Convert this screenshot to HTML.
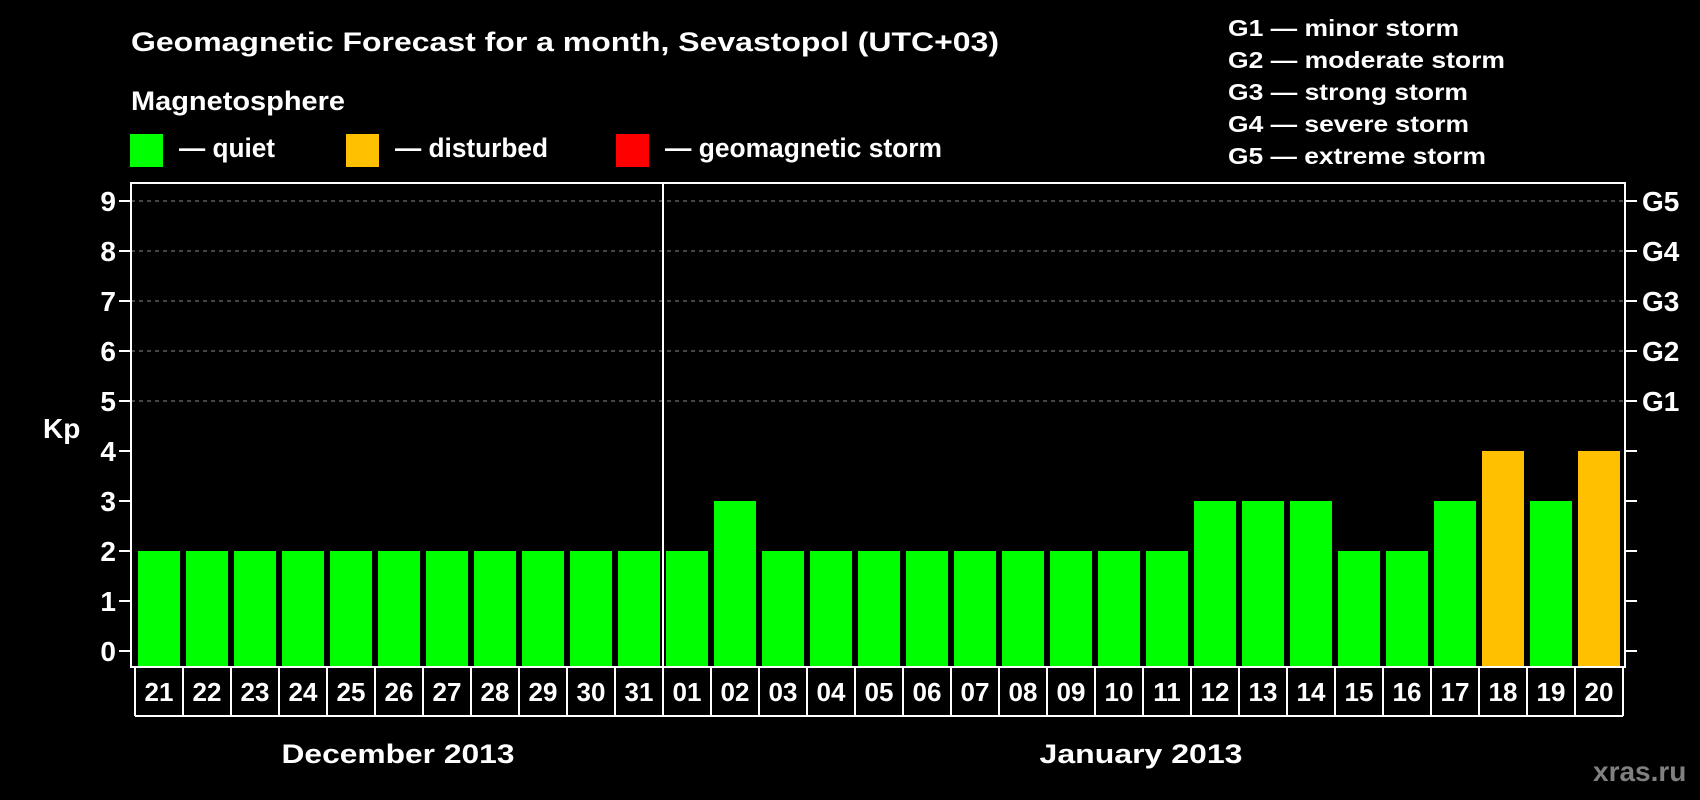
<!DOCTYPE html>
<html><head><meta charset="utf-8"><style>
html,body{margin:0;padding:0;background:#000;width:1700px;height:800px;overflow:hidden}
svg{display:block;font-family:"Liberation Sans",sans-serif;font-weight:bold}
</style></head><body>
<svg id="chart" width="1700" height="800" viewBox="0 0 1700 800" xmlns="http://www.w3.org/2000/svg">
<rect width="1700" height="800" fill="#000"/>
<text x="131" y="51" fill="#fff" font-size="27" textLength="868" lengthAdjust="spacingAndGlyphs">Geomagnetic Forecast for a month, Sevastopol (UTC+03)</text>
<text x="131" y="110" fill="#fff" font-size="27" textLength="214" lengthAdjust="spacingAndGlyphs">Magnetosphere</text>
<g>
<rect x="130" y="134" width="33" height="33" fill="#00ff00"/>
<text x="179" y="157" fill="#fff" font-size="27" textLength="96" lengthAdjust="spacingAndGlyphs">— quiet</text></g>
<g>
<rect x="346" y="134" width="33" height="33" fill="#ffc000"/>
<text x="395" y="157" fill="#fff" font-size="27" textLength="153" lengthAdjust="spacingAndGlyphs">— disturbed</text></g>
<g>
<rect x="616" y="134" width="33" height="33" fill="#ff0000"/>
<text x="665" y="157" fill="#fff" font-size="27" textLength="277" lengthAdjust="spacingAndGlyphs">— geomagnetic storm</text></g>
<g fill="#fff" font-size="23">
<text x="1228" y="36" textLength="231" lengthAdjust="spacingAndGlyphs">G1 — minor storm</text>
<text x="1228" y="68" textLength="277" lengthAdjust="spacingAndGlyphs">G2 — moderate storm</text>
<text x="1228" y="100" textLength="240" lengthAdjust="spacingAndGlyphs">G3 — strong storm</text>
<text x="1228" y="132" textLength="241" lengthAdjust="spacingAndGlyphs">G4 — severe storm</text>
<text x="1228" y="164" textLength="258" lengthAdjust="spacingAndGlyphs">G5 — extreme storm</text>
</g>
<g id="grid"></g>
<g id="bars"></g>
<g id="axes"></g>
<text x="43" y="438" fill="#fff" font-size="28">Kp</text>
<text x="398" y="763" fill="#fff" font-size="27" text-anchor="middle" textLength="233" lengthAdjust="spacingAndGlyphs">December 2013</text>
<text x="1141" y="763" fill="#fff" font-size="27" text-anchor="middle" textLength="203" lengthAdjust="spacingAndGlyphs">January 2013</text>
<text x="1593" y="781" fill="#808080" font-size="28">xras.ru</text>
</svg>
<script>
const days = ["21","22","23","24","25","26","27","28","29","30","31","01","02","03","04","05","06","07","08","09","10","11","12","13","14","15","16","17","18","19","20"];
const kpValues = [2,2,2,2,2,2,2,2,2,2,2,2,3,2,2,2,2,2,2,2,2,2,3,3,3,2,2,3,4,3,4];
const yTicks = [0,1,2,3,4,5,6,7,8,9];
const gLabels = ["G1","G2","G3","G4","G5"];
const gLevels = [5,6,7,8,9];
const monthBreakIndex = 11;

const NS="http://www.w3.org/2000/svg";
const L=131,R=1625,T=183,B=667;
const x0=138,pitch=48,bw=42;
function yScale(v){return 651-50*v;}
function xScale(i){return x0+pitch*i;}
function colorFor(v){return v>=5?"#ff0000":(v>=4?"#ffc000":"#00ff00");}
function mk(tag,attrs,parent){const e=document.createElementNS(NS,tag);for(const k in attrs)e.setAttribute(k,attrs[k]);parent.appendChild(e);return e;}

const grid=document.getElementById("grid"),bars=document.getElementById("bars"),axes=document.getElementById("axes");
gLevels.forEach(v=>{
  const l=mk("line",{x1:L,x2:R,y1:yScale(v),y2:yScale(v),stroke:"#8a8a8a","stroke-width":1,"stroke-dasharray":"4,4"},grid);
  
  
});
kpValues.forEach((v,i)=>{
  const r=mk("rect",{x:xScale(i),y:yScale(v),width:bw,height:B-yScale(v),fill:colorFor(v)},bars);
  
  
});
const frame=mk("rect",{x:L,y:T,width:R-L,height:B-T,fill:"none",stroke:"#fff","stroke-width":2},axes);


const div=mk("line",{x1:xScale(monthBreakIndex)-3,x2:xScale(monthBreakIndex)-3,y1:T,y2:B,stroke:"#fff","stroke-width":2},axes);


yTicks.forEach(v=>{
  const y=yScale(v);
  mk("line",{x1:119,x2:L,y1:y,y2:y,stroke:"#fff","stroke-width":2},axes);
  mk("line",{x1:R,x2:1637,y1:y,y2:y,stroke:"#fff","stroke-width":2},axes);
  const t=mk("text",{x:116,y:y+10,fill:"#fff","font-size":28,"text-anchor":"end"},axes);
  t.textContent=v;
  
  
});
gLevels.forEach((v,i)=>{
  const t=mk("text",{x:1642,y:yScale(v)+10,fill:"#fff","font-size":28},axes);
  t.textContent=gLabels[i];
  
  
});
const cellTop=B+1,cellBot=716;
mk("line",{x1:xScale(0)-3,x2:xScale(days.length)-3,y1:cellBot,y2:cellBot,stroke:"#fff","stroke-width":2},axes);
days.forEach((d,i)=>{
  const xl=xScale(i)-3;
  mk("line",{x1:xl,x2:xl,y1:cellTop,y2:cellBot,stroke:"#fff","stroke-width":2},axes);
  const t=mk("text",{x:xl+pitch/2,y:701,fill:"#fff","font-size":26,"text-anchor":"middle"},axes);
  t.textContent=d;
  
  
});
const xe=xScale(days.length)-3;
mk("line",{x1:xe,x2:xe,y1:cellTop,y2:cellBot,stroke:"#fff","stroke-width":2},axes);
</script>
</body></html>
